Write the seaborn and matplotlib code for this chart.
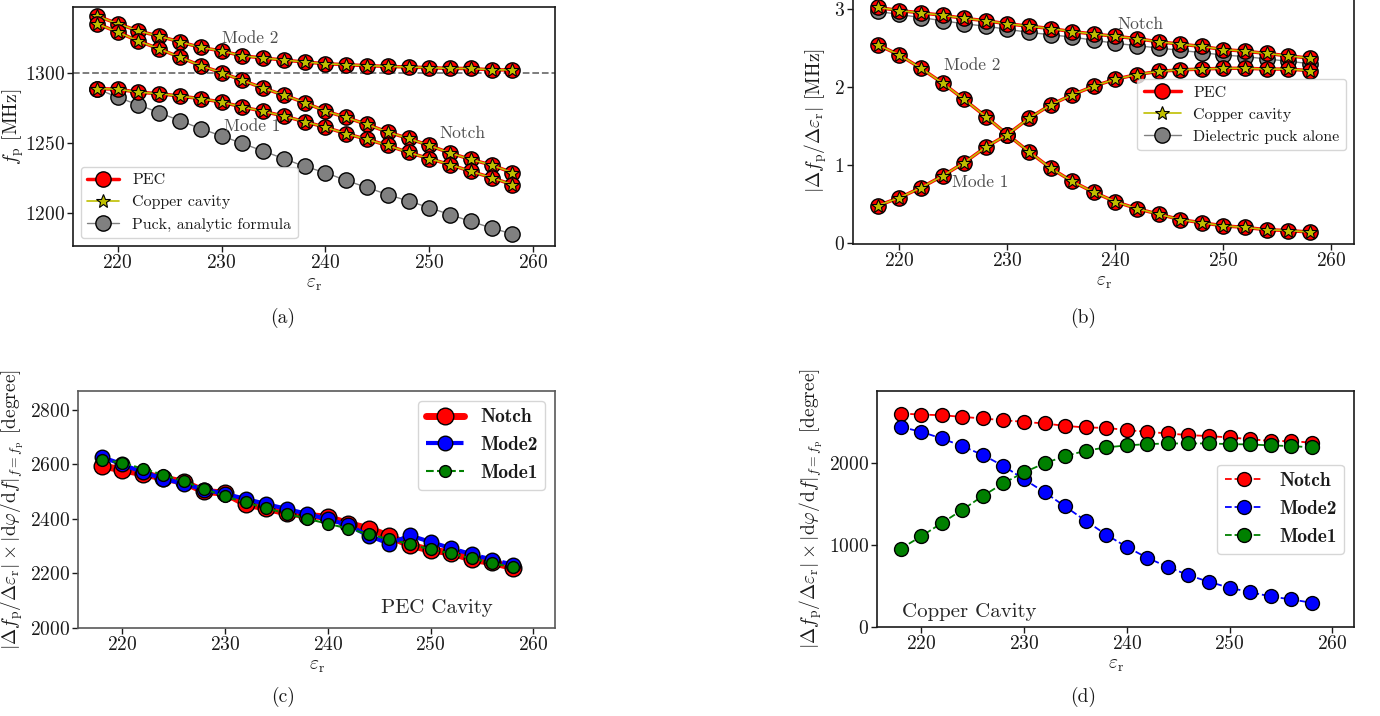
import matplotlib
matplotlib.use("Agg")
import matplotlib.pyplot as plt
from matplotlib.lines import Line2D
import seaborn as sns

# ---------------------------------------------------------------- data
eps_r = [218, 220, 222, 224, 226, 228, 230, 232, 234, 236, 238,
         240, 242, 244, 246, 248, 250, 252, 254, 256, 258]

# (a) resonance frequencies [MHz]
f_mode2 = [1340.5, 1335.0, 1329.8, 1326.0, 1322.0, 1318.0, 1315.5, 1312.0, 1310.5, 1309.0, 1307.6,
           1306.4, 1305.7, 1305.0, 1304.5, 1304.0, 1303.6, 1303.0, 1303.0, 1302.0, 1302.0]
f_notch = [1335.0, 1329.0, 1322.6, 1317.0, 1311.0, 1305.0, 1300.0, 1294.5, 1289.0, 1284.0, 1278.6,
           1272.6, 1268.0, 1263.0, 1257.6, 1253.0, 1248.0, 1242.6, 1238.0, 1234.0, 1228.6]
f_mode1 = [1288.6, 1288.2, 1286.0, 1285.0, 1283.3, 1281.4, 1279.0, 1275.5, 1272.4, 1269.0, 1265.0,
           1261.0, 1256.4, 1252.4, 1248.0, 1243.0, 1238.6, 1234.3, 1229.5, 1225.0, 1220.0]
f_puck = [1288.6, 1282.4, 1277.0, 1271.4, 1265.7, 1260.0, 1254.8, 1249.5, 1244.0, 1238.6, 1233.0,
          1228.6, 1223.0, 1218.0, 1212.9, 1208.3, 1203.6, 1198.6, 1193.8, 1189.0, 1184.8]

# (b) frequency sensitivity |df/deps| [MHz]
s_notch = [3.02, 2.98, 2.95, 2.92, 2.88, 2.85, 2.81, 2.78, 2.75, 2.71, 2.68,
           2.65, 2.62, 2.58, 2.55, 2.52, 2.48, 2.46, 2.43, 2.40, 2.37]
s_puck = [2.97, 2.93, 2.89, 2.85, 2.81, 2.78, 2.74, 2.70, 2.67, 2.64, 2.60,
          2.56, 2.53, 2.50, 2.47, 2.44, 2.41, 2.39, 2.36, 2.33, 2.30]
s_mode2 = [2.54, 2.41, 2.24, 2.05, 1.84, 1.62, 1.39, 1.17, 0.96, 0.79, 0.65,
           0.53, 0.44, 0.37, 0.30, 0.26, 0.22, 0.20, 0.17, 0.16, 0.14]
s_mode1 = [0.48, 0.58, 0.71, 0.86, 1.03, 1.23, 1.39, 1.60, 1.77, 1.90, 2.01,
           2.10, 2.16, 2.20, 2.22, 2.23, 2.24, 2.24, 2.23, 2.23, 2.21]

# (c) phase sensitivity, PEC cavity [degree]
pec_notch = [2594, 2579, 2565, 2549, 2534, 2500, 2494, 2454, 2439, 2421, 2412,
             2406, 2382, 2364, 2336, 2303, 2285, 2276, 2251, 2240, 2221]
pec_mode2 = [2626, 2600, 2570, 2547, 2528, 2507, 2491, 2473, 2454, 2436, 2418,
             2398, 2377, 2337, 2309, 2339, 2315, 2292, 2270, 2250, 2232]
pec_mode1 = [2615, 2606, 2583, 2561, 2537, 2509, 2482, 2460, 2439, 2419, 2400,
             2382, 2364, 2343, 2325, 2307, 2288, 2273, 2255, 2238, 2222]

# (d) phase sensitivity, copper cavity [degree]
cu_notch = [2609, 2596, 2588, 2568, 2548, 2527, 2507, 2487, 2458, 2438, 2434,
            2406, 2385, 2365, 2345, 2333, 2316, 2296, 2272, 2272, 2252]
cu_mode2 = [2446, 2385, 2304, 2211, 2101, 1968, 1805, 1647, 1473, 1298, 1128,
            978, 844, 734, 633, 552, 479, 426, 373, 337, 296]
cu_mode1 = [957, 1108, 1270, 1432, 1602, 1757, 1890, 2000, 2089, 2154, 2195,
            2219, 2235, 2243, 2243, 2243, 2235, 2231, 2219, 2211, 2195]

# ---------------------------------------------------------------- style
sns.set_style("ticks")
plt.rcParams.update({
    "font.family": ["cmr10", "DejaVu Serif"],
    "mathtext.fontset": "cm",
    "axes.formatter.use_mathtext": True,
    "axes.unicode_minus": False,
    "xtick.labelsize": 14,
    "ytick.labelsize": 14,
    "axes.labelsize": 14,
    "axes.edgecolor": "0.1",
    "axes.linewidth": 1.2,
    "xtick.color": "0.1",
    "ytick.color": "0.1",
    "text.color": "0.1",
    "axes.labelcolor": "0.1",
    "legend.edgecolor": "0.8",
})

W, H = 1380, 716
fig = plt.figure(figsize=(W / 100, H / 100), dpi=100)


def axes_px(left, top, right, bottom):
    return fig.add_axes([left / W, 1 - bottom / H, (right - left) / W, (bottom - top) / H])


ax_a = axes_px(73, 7, 555, 246)
ax_b = axes_px(853, -3, 1354, 244)
ax_c = axes_px(78, 391, 555, 628)
ax_d = axes_px(877, 391, 1354, 627)

XLIM = (215.7, 262.1)
XTICKS = [220, 230, 240, 250, 260]
XLABEL = r"$\varepsilon_{\rm r}$"
PHASE_LABEL = (r"$|\Delta f_{\rm p}/\Delta\varepsilon_{\rm r}|\times"
               r"|{\rm d}\varphi/{\rm d}f|_{f=f_{\rm p}}$ [degree]")

PEC = dict(color="red", linewidth=2.5, marker="o", markersize=11,
           markerfacecolor="red", markeredgecolor="black", markeredgewidth=1.0)
CU = dict(color=(0.75, 0.75, 0.0), linewidth=1.2, marker="*", markersize=10,
          markerfacecolor=(0.75, 0.75, 0.0), markeredgecolor="black", markeredgewidth=0.8)
PUCK = dict(color="0.5", linewidth=1.0, marker="o", markersize=11,
            markerfacecolor="0.5", markeredgecolor="black", markeredgewidth=1.0)


def line(ax, y, **kw):
    sns.lineplot(x=eps_r, y=y, ax=ax, legend=False, **kw)


def handle(**kw):
    return Line2D([], [], **kw)


# ---------------------------------------------------------------- (a)
ax = ax_a
ax.axhline(1300, color="0.45", linestyle="--", linewidth=1.3, zorder=1)
line(ax, f_puck, **PUCK)
for ys in (f_mode2, f_notch, f_mode1):
    line(ax, ys, **PEC)
    line(ax, ys, **CU)
ax.set_ylim(1176.2, 1346.9)
ax.set_yticks([1200, 1250, 1300])
ax.set_ylabel(r"$f_{\rm p}$ [MHz]")
ax.yaxis.set_label_coords(-0.098, 0.5)
ax.text(230.0, 1324.7, "Mode 2", fontsize=12.5, color="0.3", va="center", ha="left")
ax.text(230.2, 1261.7, "Mode 1", fontsize=12.5, color="0.3", va="center", ha="left")
ax.text(251.0, 1256.5, "Notch", fontsize=12.5, color="0.3", va="center", ha="left")
ax.legend([handle(**PEC), handle(**CU), handle(**PUCK)],
          ["PEC", "Copper cavity", "Puck, analytic formula"],
          loc="lower left", fontsize=11.5, framealpha=0.8)

# ---------------------------------------------------------------- (b)
ax = ax_b
line(ax, s_puck, **PUCK)
for ys in (s_notch, s_mode2, s_mode1):
    line(ax, ys, **PEC)
    line(ax, ys, **CU)
ax.set_ylim(-0.013, 3.154)
ax.set_yticks([0, 1, 2, 3])
ax.set_ylabel(r"$|\Delta f_{\rm p}/\Delta\varepsilon_{\rm r}|$ [MHz]")
ax.yaxis.set_label_coords(-0.047, 0.5)
ax.text(240.2, 2.80, "Notch", fontsize=12.5, color="0.3", va="center", ha="left")
ax.text(224.1, 2.28, "Mode 2", fontsize=12.5, color="0.3", va="center", ha="left")
ax.text(224.9, 0.78, "Mode 1", fontsize=12.5, color="0.3", va="center", ha="left")
ax.legend([handle(**PEC), handle(**CU), handle(**PUCK)],
          ["PEC", "Copper cavity", "Dielectric puck alone"],
          loc="upper right", bbox_to_anchor=(1.0, 0.70), fontsize=11.5,
          handlelength=2.3, framealpha=0.8)

# ---------------------------------------------------------------- (c)
ax = ax_c
C_NOTCH = dict(color="red", linewidth=5, linestyle="-", marker="o", markersize=12,
               markerfacecolor="red", markeredgecolor="black", markeredgewidth=1.0)
C_MODE2 = dict(color="blue", linewidth=3, linestyle="--", marker="o", markersize=10.5,
               markerfacecolor="blue", markeredgecolor="black", markeredgewidth=1.0)
C_MODE1 = dict(color="green", linewidth=1.5, linestyle="--", marker="o", markersize=8.5,
               markerfacecolor="green", markeredgecolor="black", markeredgewidth=1.0)
line(ax, pec_notch, **C_NOTCH)
line(ax, pec_mode2, **C_MODE2)
line(ax, pec_mode1, **C_MODE1)
ax.set_ylim(2000, 2868)
ax.set_yticks([2000, 2200, 2400, 2600, 2800])
ax.set_ylabel(PHASE_LABEL)
ax.yaxis.set_label_coords(-0.110, 0.5)
ax.text(250.6, 2074, "PEC Cavity", fontsize=15, color="0.15", va="center", ha="center")
for s in ax.spines.values():
    s.set_color("0.35")
ax.legend([handle(**C_NOTCH), handle(**C_MODE2), handle(**C_MODE1)],
          ["Notch", "Mode2", "Mode1"], loc="upper right",
          prop={"family": "cmb10", "size": 14}, framealpha=0.8)

# ---------------------------------------------------------------- (d)
ax = ax_d
D_KW = dict(linewidth=1.3, linestyle="--", marker="o", markersize=10,
            markeredgecolor="black", markeredgewidth=1.0)
D_NOTCH = dict(color="red", markerfacecolor="red", **D_KW)
D_MODE2 = dict(color="blue", markerfacecolor="blue", **D_KW)
D_MODE1 = dict(color="green", markerfacecolor="green", **D_KW)
line(ax, cu_notch, **D_NOTCH)
line(ax, cu_mode2, **D_MODE2)
line(ax, cu_mode1, **D_MODE1)
ax.set_ylim(0, 2884)
ax.set_yticks([0, 1000, 2000])
ax.set_ylabel(PHASE_LABEL)
ax.yaxis.set_label_coords(-0.108, 0.5)
ax.text(218.1, 187, "Copper Cavity", fontsize=15, color="0.15", va="center", ha="left")
ax.legend([handle(**D_NOTCH), handle(**D_MODE2), handle(**D_MODE1)],
          ["Notch", "Mode2", "Mode1"], loc="center right",
          prop={"family": "cmb10", "size": 14}, framealpha=0.8)

# ---------------------------------------------------------------- common
for ax in (ax_a, ax_b, ax_c, ax_d):
    ax.set_xlim(*XLIM)
    ax.set_xticks(XTICKS)
    ax.set_xlabel(XLABEL, labelpad=2)
    ax.tick_params(direction="out", length=4, width=1, pad=2)

for label, x, y in (("(a)", 283, 318), ("(b)", 1083, 318),
                    ("(c)", 283, 697), ("(d)", 1083, 697)):
    fig.text(x / W, 1 - y / H, label, fontsize=14, ha="center", va="center")

fig.savefig("out.png", dpi=100)
